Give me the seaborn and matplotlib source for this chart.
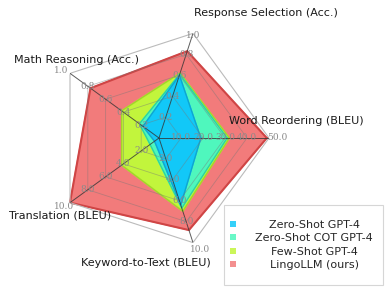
import numpy as np
import pandas as pd
import seaborn as sns
import matplotlib
matplotlib.use("Agg")
import matplotlib.pyplot as plt
from matplotlib.patches import Patch, Rectangle
from matplotlib.legend_handler import HandlerPatch

sns.set_theme(style="white")
plt.rcParams['font.family'] = ['DejaVu Sans']

# ---- data ----
categories = ["Word Reordering (BLEU)", "Response Selection (Acc.)",
              "Math Reasoning (Acc.)", "Translation (BLEU)", "Keyword-to-Text (BLEU)"]
axis_max = [50.0, 1.0, 1.0, 10.0, 10.0]
tick_vals = [[10.0, 20.0, 30.0, 40.0, 50.0],
             [0.2, 0.4, 0.6, 0.8, 1.0],
             [0.2, 0.4, 0.6, 0.8, 1.0],
             [2.0, 4.0, 6.0, 8.0, 10.0],
             [2.0, 4.0, 6.0, 8.0, 10.0]]
series_names = ["Zero-Shot GPT-4", "Zero-Shot COT GPT-4", "Few-Shot GPT-4", "LingoLLM (ours)"]
zero_shot = [19.0, 0.60, 0.18, 0.5, 6.4]
zero_cot = [31.0, 0.61, 0.22, 1.0, 6.7]
few_shot = [32.0, 0.62, 0.42, 4.2, 7.0]
lingo = [49.0, 0.83, 0.77, 10.0, 8.8]

fill_colors = ["#12c8f8", "#4ff7bd", "#c2f53c", "#f27b7b"]
edge_colors = ["#0fa6d0", "#2fd59c", "#a2d42a", "#cf4545"]

rows = []
for name, vals in zip(series_names, [zero_shot, zero_cot, few_shot, lingo]):
    for cat, v, m in zip(categories, vals, axis_max):
        rows.append({"series": name, "category": cat, "value": v, "norm": v / m})
df = pd.DataFrame(rows)

n = len(categories)
angles = np.deg2rad(np.arange(n) * 72.0)
ang_closed = np.concatenate([angles, angles[:1]])

W, H = 390, 291
fig = plt.figure(figsize=(W / 100, H / 100), dpi=100)
cx, cy, R = 159, 138, 110
ax = fig.add_axes([(cx - R) / W, 1 - (cy + R) / H, 2 * R / W, 2 * R / H], projection="polar")
ax.set_ylim(0, 1)
ax.axis("off")

# polygons (largest first)
for i in list(range(len(series_names)))[::-1]:
    name = series_names[i]
    sub = df[df.series == name].set_index("category").loc[categories]
    r = np.concatenate([sub["norm"].values, sub["norm"].values[:1]])
    ax.fill(ang_closed, r, color=fill_colors[i], alpha=1.0, zorder=2 + (3 - i) * 0.1)
    ax.plot(ang_closed, r, color=edge_colors[i], lw=1.5 if i == 3 else 1.0, zorder=2.05 + (3 - i) * 0.1)

# grid
for lev in [0.2, 0.4, 0.6, 0.8]:
    ax.plot(ang_closed, [lev] * (n + 1), color="#777777", lw=0.6, alpha=0.45, zorder=5)
ax.plot(ang_closed, [1.0] * (n + 1), color="#bbbbbb", lw=0.8, zorder=5)
for a in angles:
    ax.plot([a, a], [0, 1], color="#333333", lw=0.7, alpha=0.8, zorder=6)

# tick labels (outermost label nudged outward, as in the reference)
outer_offsets = [(8, 0), (0, -2), (-9, 3), (-6, -4), (7, -7)]
for a, ticks, m, off in zip(angles, tick_vals, axis_max, outer_offsets):
    for t in ticks:
        o = off if t == ticks[-1] else (0, 0)
        ax.annotate(f"{t:.1f}", xy=(a, t / m), xytext=o, textcoords="offset pixels",
                    color="#8a8a8a", fontsize=6.5, family="DejaVu Serif",
                    ha="center", va="center", zorder=7)

# category labels
label_pos = {"Response Selection (Acc.)": (266, 13),
             "Word Reordering (BLEU)": (296, 121),
             "Math Reasoning (Acc.)": (77, 60),
             "Translation (BLEU)": (60, 216),
             "Keyword-to-Text (BLEU)": (146, 263)}
for cat in categories:
    x, y = label_pos[cat]
    fig.text(x / W, 1 - y / H, cat, fontsize=8.0, ha="center", va="center", color="#1a1a1a")


def small_square(legend, orig_handle, xdescent, ydescent, width, height, fontsize):
    s = 4.3
    xc = -xdescent - 4.3
    yc = -ydescent + height / 2
    return Rectangle((xc - s / 2, yc - s / 2), s, s)


handles = [Patch(facecolor=c, edgecolor="none", alpha=0.85) for c in fill_colors]
leg = fig.legend(handles, series_names, loc="lower right", bbox_to_anchor=(383 / W, 1 - 285 / H),
                 borderaxespad=0.0, handler_map={Patch: HandlerPatch(patch_func=small_square)},
                 fontsize=8.0, frameon=True, fancybox=False, edgecolor="#cccccc",
                 handlelength=0.3, handletextpad=0.69, labelspacing=0.3, borderpad=1.35)
leg.get_frame().set_linewidth(0.8)
fig.canvas.draw()
r = fig.canvas.get_renderer()
texts = leg.get_texts()
widths = [t.get_window_extent(r).width for t in texts]
mw = max(widths)
for t, w in zip(texts, widths):
    t.set_position(((mw - w) / 2 + 5, 0))

fig.savefig("out.png", dpi=100)
